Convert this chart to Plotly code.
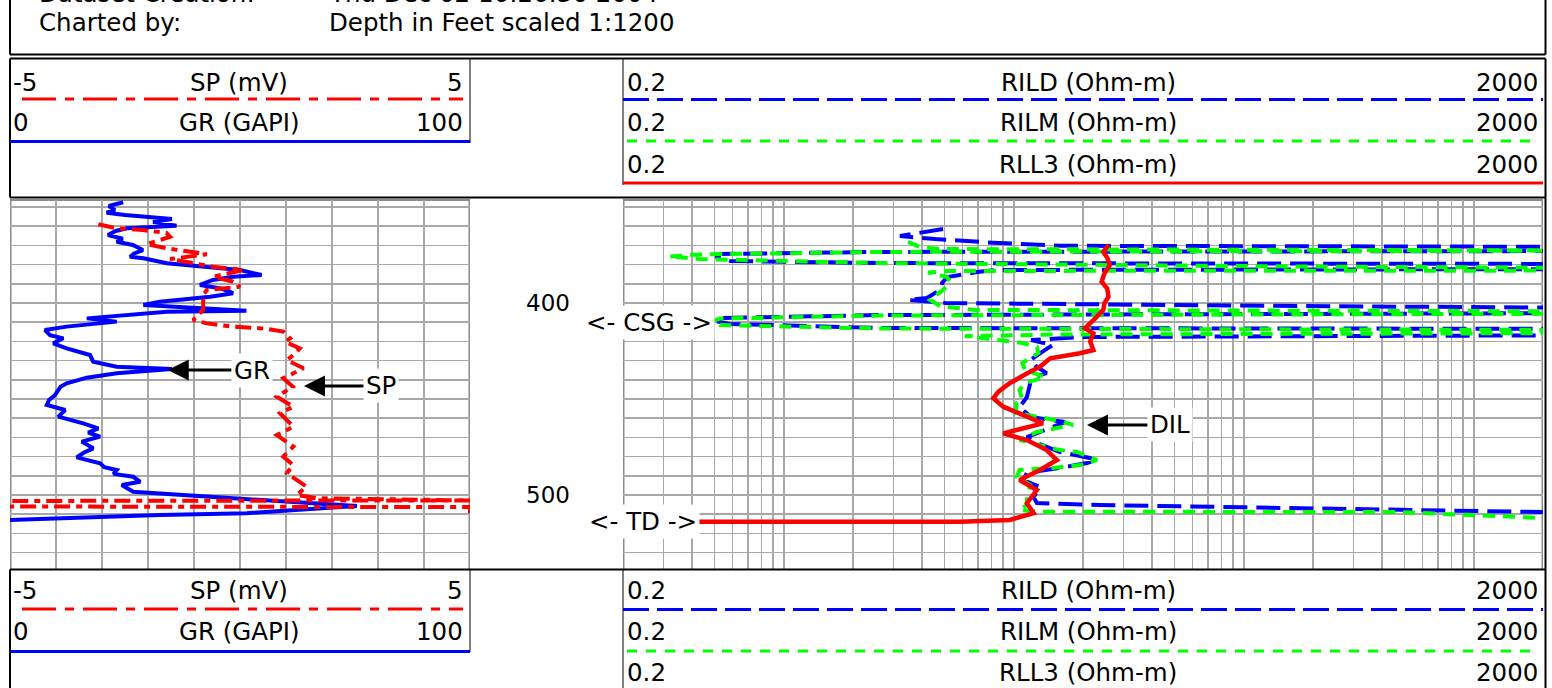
import math
import plotly.graph_objects as go

W, H = 1552, 688

GR_DEPTH = [347.5, 349.5, 351.6, 353.0, 354.2, 355.9, 356.3, 357.8, 359.7, 361.1, 362.5, 364.6, 366.5,
            368.1, 369.8, 372.4, 374.2, 375.9, 376.7, 379.3, 381.1, 382.8, 385.4, 386.3, 388.0, 390.6,
            392.5, 394.9, 396.7, 399.3, 401.0, 401.9, 404.0, 404.5, 407.1, 408.0, 409.7, 412.3, 414.1,
            416.7, 418.4, 421.0, 423.6, 427.1, 430.6, 433.2, 434.4, 436.6, 438.9, 441.8, 443.6, 447.9,
            450.5, 453.1, 455.7, 459.2, 462.7, 465.3, 467.5, 469.6, 472.2, 475.7, 478.0, 480.4, 483.5,
            485.5, 487.0, 489.0, 490.5, 493.1, 494.8, 498.3, 501.7, 504.7, 505.7, 509.5, 510.4, 513.0]
GR_API = [24.6, 21.5, 22.8, 21.0, 25.0, 31.9, 35.2, 31.1, 36.2, 25.4, 23.0, 21.3, 24.5,
          23.2, 26.7, 28.9, 27.0, 26.1, 29.0, 34.1, 41.3, 50.0, 54.7, 48.5, 44.1, 41.3,
          46.0, 48.5, 43.5, 32.6, 29.0, 35.4, 51.4, 34.1, 19.6, 16.7, 23.2, 12.3, 7.6,
          8.7, 11.6, 9.4, 12.3, 17.4, 18.1, 23.2, 35.2, 23.2, 16.7, 12.3, 11.0, 9.8,
          8.5, 8.0, 12.0, 10.5, 15.9, 19.2, 17.0, 19.6, 15.6, 18.1, 16.0, 14.5, 19.6,
          20.5, 23.2, 22.5, 26.8, 28.3, 24.3, 26.8, 48.5, 70.3, 75.4, 51.4, 32.6, 0.0]

SP_DEPTH = [359.0, 361.1, 362.0, 363.5, 365.5, 367.2, 369.4, 371.5, 373.3, 374.6, 377.1, 381.1, 382.8,
            386.3, 388.9, 391.5, 393.2, 395.8, 403.6, 408.9, 410.6, 412.3, 412.9, 413.5, 414.9, 418.4,
            420.2, 423.6, 427.1, 429.7, 434.0, 439.2, 443.6, 448.8, 454.0, 457.4, 464.4, 468.8, 474.8,
            480.0, 484.4, 488.7, 495.7, 500.0, 501.7, 502.8, 503.1, 506.0, 506.3, 509.5]
SP_MV = [-3.08, -2.68, -2.11, -1.60, -1.52, -1.74, -2.03, -1.59, -1.02, -0.72, -1.52, -0.58, 0.07,
         -0.58, -0.15, 0.0, -0.72, -0.80, -0.80, -1.02, -0.72, -0.15, 0.29, 0.58, 0.94, 1.09,
         0.98, 1.30, 1.16, 1.02, 1.38, 0.94, 1.15, 0.80, 1.16, 0.87, 1.16, 0.80, 1.16,
         0.94, 1.15, 1.02, 1.45, 1.23, 1.67, 5.0, -5.0, -5.0, 5.0, 5.0]

RILD_DEPTH = [361.5, 365.1, 366.7, 368.6, 370.2, 370.8, 372.9, 373.4, 374.5, 376.0, 378.1, 379.2, 379.7,
              382.3, 382.8, 383.9, 386.5, 389.6, 393.2, 397.4, 398.4, 400.0, 401.6, 402.6, 405.2, 406.3,
              407.8, 409.4, 410.9, 413.0, 413.5, 416.7, 417.7, 419.3, 421.9, 423.4, 429.7, 433.3, 436.5,
              437.5, 441.7, 449.0, 454.2, 459.4, 462.0, 467.2, 469.8, 472.9, 477.6, 480.7, 481.8, 483.3,
              485.9, 488.5, 492.2, 495.8, 501.0, 504.2, 505.2, 508.9, 509.1]
RILD_OHMM = [4.93, 3.20, 4.55, 8.12, 15.9, 5000, 5000, 2.62, 0.528, 0.507, 0.583, 2.62, 5000,
             5000, 8.45, 6.92, 5.13, 4.88, 4.78, 4.19, 3.47, 5.02, 175, 5000, 5000, 2.62,
             0.528, 0.507, 0.583, 2.62, 5000, 5000, 19.4, 11.9, 14.8, 14.1, 11.8, 12.6, 13.9,
             13.0, 11.8, 11.4, 10.6, 11.9, 16.7, 13.0, 11.4, 12.6, 15.9, 21.4, 23.0, 20.8,
             15.9, 11.4, 11.0, 13.0, 12.2, 12.6, 23.7, 2000, 5000]

RILM_DEPTH = [368.2, 370.8, 371.9, 372.4, 372.7, 373.4, 374.7, 375.8, 377.1, 379.2, 381.0, 381.8, 383.1,
              383.3, 384.1, 386.5, 389.1, 393.2, 398.4, 401.6, 403.6, 404.4, 405.5, 406.5, 408.1, 409.4,
              411.5, 413.3, 414.1, 415.6, 416.4, 417.2, 419.3, 420.8, 422.9, 426.0, 431.3, 434.9, 438.5,
              441.7, 445.3, 450.5, 452.1, 457.3, 460.9, 463.5, 465.1, 467.2, 471.4, 476.6, 477.6, 481.8,
              484.4, 485.9, 487.0, 490.6, 494.8, 502.6, 505.2, 507.8, 508.7, 508.9, 512.0, 512.2]
RILM_OHMM = [3.47, 3.91, 4.78, 5000, 5000, 2.62, 0.432, 0.317, 0.432, 2.62, 175, 5000, 5000,
             5.28, 4.24, 5.13, 5.28, 4.93, 4.32, 4.78, 6.78, 5000, 5000, 2.62, 0.528, 0.488,
             0.528, 2.62, 5000, 5000, 15.9, 6.14, 8.71, 10.9, 12.6, 12.8, 10.9, 11.2, 13.7,
             11.2, 10.6, 10.9, 10.3, 10.2, 15.1, 18.1, 15.4, 12.6, 10.6, 15.9, 18.8, 23.0,
             19.4, 14.8, 10.6, 10.3, 11.8, 11.4, 11.4, 10.6, 13.0, 478, 2000, 5000]

RLL3_DEPTH = [369.8, 373.3, 376.5, 380.2, 384.5, 388.9, 392.5, 396.7, 400.0, 403.6, 408.9, 413.2, 415.8,
              420.0, 424.5, 426.2, 428.8, 433.2, 436.5, 441.8, 446.0, 449.6, 454.0, 459.2, 462.7, 467.9,
              471.4, 476.6, 481.8, 487.0, 492.2, 497.4, 504.3, 509.5, 513.0, 513.9, 514.0]
RLL3_OHMM = [25.8, 24.5, 25.5, 26.2, 24.8, 24.1, 25.5, 25.8, 24.8, 24.5, 22.2, 20.4, 22.2,
             21.5, 22.2, 19.4, 14.4, 13.0, 11.5, 9.6, 8.6, 8.15, 9.0, 11.4, 13.4, 9.0,
             11.4, 13.9, 15.4, 13.0, 10.6, 12.6, 11.4, 12.2, 9.6, 5.84, 0.15]

# scales / grid values
GR_SCALE = (0, 100)
SP_SCALE = (-5, 5)
RES_SCALE = (0.2, 2000)
GR_GRID = list(range(0, 101, 10))
RES_GRID = [0.2, 0.3, 0.4, 0.5, 0.6, 0.7, 0.8, 0.9, 1, 2, 3, 4, 5, 6, 7, 8, 9, 10,
            20, 30, 40, 50, 60, 70, 80, 90, 100, 200, 300, 400, 500, 600, 700, 800, 900, 1000, 2000]
RES_DECADES = [2, 20, 200]
DEPTH_GRID = list(range(350, 540, 10))
DEPTH_MAJOR = [350, 400, 450, 500]
DEPTH_LABELS = [400, 500]
DEPTH_RANGE = (346.35, 538.54)
CSG_DEPTH = 409.9
TD_DEPTH = 513.9

HEADER_TOP = [("-5", "SP (mV)", "5"), ("0", "GR (GAPI)", "100")]
HEADER_RES = [("0.2", "RILD (Ohm-m)", "2000"), ("0.2", "RILM (Ohm-m)", "2000"), ("0.2", "RLL3 (Ohm-m)", "2000")]
INFO = [("Dataset Creation:", "Thu Dec 02 16:26:30 2004"), ("Charted by:", "Depth in Feet scaled 1:1200")]

# ---------------- styling ----------------
FONT = "DejaVu Sans"
FS = 24.5
RED, BLUE, GREEN = "#ff0000", "#0000ff", "#00ff00"
GRID = "#a8a8a8"
GRID_DARK = "#808080"
SP_DASH = "16px,6px,6px,6px"
RILD_DASH = "24px,9px"
RILM_DASH = "12px,8px"


def px(x):
    return x / W


def py(y):
    return 1 - y / H


fig = go.Figure()
fig.add_trace(go.Scatter(x=GR_API, y=GR_DEPTH, xaxis="x", yaxis="y", mode="lines",
                         line=dict(color=BLUE, width=4), hoverinfo="skip"))
fig.add_trace(go.Scatter(x=SP_MV, y=SP_DEPTH, xaxis="x3", yaxis="y", mode="lines",
                         line=dict(color=RED, width=4, dash=SP_DASH), hoverinfo="skip"))
fig.add_trace(go.Scatter(x=RILD_OHMM, y=RILD_DEPTH, xaxis="x2", yaxis="y2", mode="lines",
                         line=dict(color=BLUE, width=4, dash=RILD_DASH), hoverinfo="skip"))
fig.add_trace(go.Scatter(x=RILM_OHMM, y=RILM_DEPTH, xaxis="x2", yaxis="y2", mode="lines",
                         line=dict(color=GREEN, width=4, dash=RILM_DASH), hoverinfo="skip"))
fig.add_trace(go.Scatter(x=RLL3_OHMM, y=RLL3_DEPTH, xaxis="x2", yaxis="y2", mode="lines",
                         line=dict(color=RED, width=4.5), hoverinfo="skip"))

ydom = [py(569), py(200)]
axis_common = dict(showticklabels=False, ticks="", zeroline=False, showline=False, fixedrange=True)
fig.update_layout(
    width=W, height=H, autosize=False,
    margin=dict(l=0, r=0, t=0, b=0, pad=0),
    paper_bgcolor="white", plot_bgcolor="rgba(0,0,0,0)",
    showlegend=False,
    font=dict(family=FONT, size=FS, color="black"),
    xaxis=dict(domain=[px(10), px(470)], range=list(GR_SCALE), anchor="y", tickvals=GR_GRID,
               showgrid=True, gridcolor=GRID, gridwidth=1.5, **axis_common),
    xaxis3=dict(range=list(SP_SCALE), overlaying="x", anchor="y", visible=False, fixedrange=True),
    xaxis2=dict(domain=[px(623), px(1543)], type="log",
                range=[math.log10(RES_SCALE[0]), math.log10(RES_SCALE[1])], anchor="y2",
                tickvals=RES_GRID, showgrid=True, gridcolor=GRID, gridwidth=1.5, **axis_common),
    yaxis=dict(domain=ydom, range=[DEPTH_RANGE[1], DEPTH_RANGE[0]], anchor="x", tickvals=DEPTH_GRID,
               showgrid=True, gridcolor=GRID, gridwidth=1.5, **axis_common),
    yaxis2=dict(domain=ydom, range=[DEPTH_RANGE[1], DEPTH_RANGE[0]], anchor="x2", matches="y",
                tickvals=DEPTH_GRID, showgrid=True, gridcolor=GRID, gridwidth=1.5, **axis_common),
)

shapes = []


def pline(x0, y0, x1, y1, color="black", width=2, dash="solid", layer="above"):
    shapes.append(dict(type="line", xref="paper", yref="paper", x0=px(x0), y0=py(y0), x1=px(x1), y1=py(y1),
                       line=dict(color=color, width=width, dash=dash), layer=layer))


# darker grid lines in tracks
shapes.append(dict(type="line", xref="x", yref="y domain", x0=50, x1=50, y0=0, y1=1,
                   line=dict(color=GRID_DARK, width=2), layer="below"))
for v in RES_DECADES:
    shapes.append(dict(type="line", xref="x2", yref="y2 domain", x0=v, x1=v, y0=0, y1=1,
                       line=dict(color=GRID_DARK, width=2), layer="below"))
for d in DEPTH_MAJOR:
    shapes.append(dict(type="line", xref="x domain", yref="y", x0=0, x1=1, y0=d, y1=d,
                       line=dict(color=GRID_DARK, width=2), layer="below"))
    shapes.append(dict(type="line", xref="x2 domain", yref="y2", x0=0, x1=1, y0=d, y1=d,
                       line=dict(color=GRID_DARK, width=2), layer="below"))
# track borders (grey)
for xv in GR_SCALE:
    shapes.append(dict(type="line", xref="x", yref="y domain", x0=xv, x1=xv, y0=0, y1=1,
                       line=dict(color="#8a8a8a", width=3), layer="below"))
for xv in RES_SCALE:
    shapes.append(dict(type="line", xref="x2", yref="y2 domain", x0=xv, x1=xv, y0=0, y1=1,
                       line=dict(color="#8a8a8a", width=3), layer="below"))
shapes.append(dict(type="line", xref="x domain", yref="y domain", x0=0, x1=1, y0=1, y1=1,
                   line=dict(color="#8a8a8a", width=2), layer="below"))
shapes.append(dict(type="line", xref="x2 domain", yref="y2 domain", x0=0, x1=1, y0=1, y1=1,
                   line=dict(color="#8a8a8a", width=2), layer="below"))

# frames (black)
pline(10, -5, 10, 54.5)
pline(1545.5, -5, 1545.5, 54.5)
pline(10, 54.5, 1545.5, 54.5)
pline(10, 58.5, 1545.5, 58.5)
pline(10, 197.5, 1545.5, 197.5)
pline(10, 58.5, 10, 197.5)
pline(1545.5, 58.5, 1545.5, 700)
pline(10, 569.5, 1545.5, 569.5)
pline(10, 569.5, 10, 700)
pline(470, 58.5, 470, 143, width=1)
pline(623, 58.5, 623, 185, width=1)
pline(470, 569.5, 470, 652, width=1)
pline(623, 569.5, 623, 700, width=1)

# header legend lines (top and bottom)
for off in (0, 510):
    pline(22, 99 + off, 463, 99 + off, RED, 3, "34px,9px,9px,9px")
    pline(10, 141.5 + off, 470, 141.5 + off, BLUE, 3)
    pline(623, 99.5 + off, 1543, 99.5 + off, BLUE, 3, "26px,8px")
    pline(627, 141 + off, 1537, 141 + off, GREEN, 3, "10px,9px")
    pline(623, 183 + off, 1543, 183 + off, RED, 3)
fig.update_layout(shapes=shapes)

ann = []


def txt(s, x, y, xanchor="center", size=FS, **kw):
    ann.append(dict(text=s, x=px(x), y=py(y), xref="paper", yref="paper", xanchor=xanchor, yanchor="middle",
                    showarrow=False, font=dict(family=FONT, size=size, color="black"), **kw))


# info box
for (lab, val), yy in zip(INFO, (-6, 22)):
    txt(lab, 37, yy, "left")
    txt(val, 327, yy, "left")

# header texts
for off in (0, 508):
    for (lo, name, hi), yy in zip(HEADER_TOP, (82, 123)):
        txt(lo, 11, yy + off, "left")
        txt(name, 239, yy + off)
        txt(hi, 465, yy + off, "right")
    for (lo, name, hi), yy in zip(HEADER_RES, (82, 123, 164)):
        txt(lo, 625, yy + off, "left")
        txt(name, 1088, yy + off)
        txt(hi, 1540, yy + off, "right")

# depth labels
for d in DEPTH_LABELS:
    ann.append(dict(text=str(d), x=px(548), y=d, xref="paper", yref="y", xanchor="center", yanchor="middle",
                    showarrow=False, font=dict(family=FONT, size=23, color="black")))

# casing / TD labels
for s, d, xc in (("<- CSG ->", CSG_DEPTH, 649), ("<- TD ->", TD_DEPTH, 643)):
    ann.append(dict(text=s, x=px(xc), y=d, xref="paper", yref="y", xanchor="center", yanchor="middle",
                    showarrow=False, bgcolor="white", borderpad=2, font=dict(family=FONT, size=FS, color="black")))

# curve callouts with arrows
ARROW = dict(showarrow=True, arrowhead=2, arrowsize=1.4, arrowwidth=3, arrowcolor="black",
             bgcolor="white", borderpad=2, ay=0, font=dict(family=FONT, size=FS, color="black"))
ann.append(dict(text="GR", x=34.3, y=434.9, xref="x", yref="y", ax=84, **ARROW))
ann.append(dict(text="SP", x=1.39, y=443.2, xref="x3", yref="y", ax=77, **ARROW))
ann.append(dict(text="DIL", x=math.log10(20.8), y=463.5, xref="x2", yref="y2", ax=83, **ARROW))

fig.update_layout(annotations=ann)

fig.write_html("out.html", config={"displayModeBar": False, "staticPlot": True},
               post_script="document.body.style.margin='0';document.body.style.overflow='hidden';")
